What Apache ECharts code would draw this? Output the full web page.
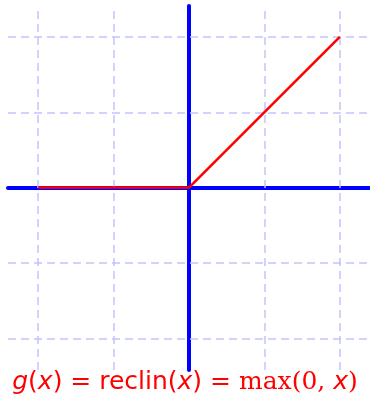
<!doctype html>
<html>
<head>
<meta charset="UTF-8">
<title>reclin</title>
<script src="https://cdn.jsdelivr.net/npm/echarts@6/dist/echarts.min.js"></script>
<style>
  html, body { margin: 0; padding: 0; background: #fff; }
  #main { width: 370px; height: 403px; }
</style>
</head>
<body>
<div id="main"></div>
<script>
// data
var reluPoints = [[-2, 0], [0, 0], [2, 2]];
var gridXs = [-2, -1, 1, 2];
var gridYs = [-2, -1, 1, 2];
var xRange = [-2.4, 2.4];
var yRange = [-2.42, 2.41];

var myChart = echarts.init(document.getElementById('main'));

var dashStyle = { color: '#c4c4ff', width: 1.5, type: [8, 5] };
var gridLines = [];
for (var i = 0; i < gridXs.length; i++) gridLines.push({ xAxis: gridXs[i] });
for (var j = 0; j < gridYs.length; j++) gridLines.push({ yAxis: gridYs[j] });

var option = {
    animation: false,
    grid: { left: 8, right: 0, top: 6, height: 364 },
    xAxis: {
        type: 'value',
        min: xRange[0], max: xRange[1],
        axisLine: { onZero: true, lineStyle: { color: '#0000ff', width: 4 } },
        axisTick: { show: false },
        axisLabel: { show: false },
        splitLine: { show: false }
    },
    yAxis: {
        type: 'value',
        min: yRange[0], max: yRange[1],
        axisLine: { show: true, onZero: true, lineStyle: { color: '#0000ff', width: 4 } },
        axisTick: { show: false },
        axisLabel: { show: false },
        splitLine: { show: false }
    },
    series: [
        {
            type: 'line',
            data: reluPoints,
            symbol: 'none',
            zlevel: 1,
            lineStyle: { color: '#ff0000', width: 2.5 }
        },
        {
            // carrier for the dashed grid, kept under the axes
            type: 'line',
            data: [],
            markLine: {
                silent: true,
                symbol: 'none',
                label: { show: false },
                lineStyle: dashStyle,
                data: gridLines
            }
        }
    ],
    graphic: [{
        type: 'text',
        left: 'center',
        top: 370,
        zlevel: 2,
        style: {
            text: '{i|g}{s|(}{i|x}{s|) }{m|= }{s|reclin(}{i|x}{s|) }{m|= max(0, }{i|x}{m|)}',
            fill: '#ff0000',
            rich: {
                i: { fontFamily: 'DejaVu Sans', fontStyle: 'italic', fontSize: 25, fill: '#ff0000' },
                s: { fontFamily: 'DejaVu Sans', fontSize: 25, fill: '#ff0000' },
                m: { fontFamily: 'DejaVu Serif', fontSize: 25, fill: '#ff0000' }
            }
        }
    }]
};
myChart.setOption(option);
</script>
</body>
</html>
